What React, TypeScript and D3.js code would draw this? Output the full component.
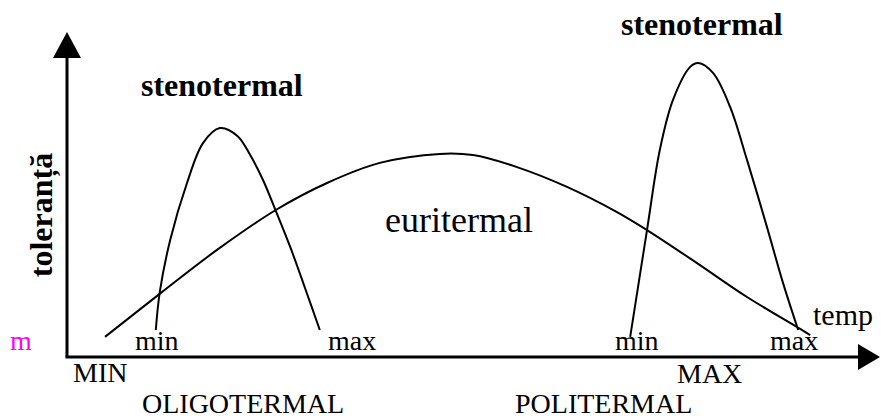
import * as d3 from 'd3'
import { useEffect, useRef } from 'react'

// temperature (0-100) vs tolerance (0-100)
const stenoColdX = [11.1, 11.6, 12.9, 15, 17, 19.1, 21.3, 22.9, 24.5, 26.1, 27.9, 29.75, 31.6]
const stenoColdY = [9, 21.7, 39, 58, 71.3, 76.3, 73.7, 67.3, 59, 48.7, 36.7, 23, 9]

const euriX = [4.75, 11.9, 18.75, 26.1, 32.5, 39.1, 46.6, 50.75, 56.25, 62.5, 68.75, 72.5, 78.75, 85, 91.25, 92.9]
const euriY = [6.7, 21.7, 35.7, 49, 58, 64.7, 67.7, 67.3, 63.3, 56.7, 48.3, 42.3, 31.3, 20, 10, 7.3]

const stenoWarmX = [70.4, 72.5, 74.1, 75.75, 77.9, 78.9, 80.75, 82.9, 85, 87.5, 89.5, 91.4]
const stenoWarmY = [6.7, 42.3, 69, 85.7, 96.7, 98, 94.7, 83.3, 65.7, 43.3, 24.7, 9]

const W = 881
const H = 419

const App = () => {
  const ref = useRef<SVGSVGElement>(null)

  useEffect(() => {
    const svg = d3.select(ref.current)
    svg.selectAll('*').remove()

    const x = d3.scaleLinear().domain([0, 100]).range([67, 867])
    const y = d3.scaleLinear().domain([0, 100]).range([357, 57])

    const font = "'Liberation Serif', 'Times New Roman', serif"

    // axes with arrow heads
    const x0 = x(0)
    const y0 = y(0)
    svg
      .append('line')
      .attr('x1', x0)
      .attr('y1', y0)
      .attr('x2', x0)
      .attr('y2', y(100) + 1)
      .attr('stroke', '#000')
      .attr('stroke-width', 3)
    svg
      .append('path')
      .attr('d', `M${x0},32 L${x0 - 14},${y(100) + 1} L${x0 + 14},${y(100) + 1} Z`)
      .attr('fill', '#000')
    svg
      .append('line')
      .attr('x1', x0 - 1.5)
      .attr('y1', y0)
      .attr('x2', 858)
      .attr('y2', y0)
      .attr('stroke', '#000')
      .attr('stroke-width', 3)
    svg
      .append('path')
      .attr('d', `M880,${y0} L858,${y0 - 13} L858,${y0 + 13} Z`)
      .attr('fill', '#000')

    // curves
    const line = d3
      .line<[number, number]>()
      .x((d) => x(d[0]))
      .y((d) => y(d[1]))
      .curve(d3.curveCatmullRom.alpha(0.5))

    const series: [number[], number[]][] = [
      [stenoColdX, stenoColdY],
      [euriX, euriY],
      [stenoWarmX, stenoWarmY],
    ]
    svg
      .append('g')
      .selectAll('path')
      .data(series)
      .join('path')
      .attr('d', (s) => line(s[0].map((v, i) => [v, s[1][i]] as [number, number])))
      .attr('fill', 'none')
      .attr('stroke', '#000')
      .attr('stroke-width', 2)

    // labels
    const label = (tx: number, ty: number, t: string, size: number, weight = 'normal', fill = '#000') =>
      svg
        .append('text')
        .attr('x', tx)
        .attr('y', ty)
        .attr('font-family', font)
        .attr('font-size', size)
        .attr('font-weight', weight)
        .attr('fill', fill)
        .text(t)

    label(141, 96, 'stenotermal', 32, 'bold')
    label(621, 35, 'stenotermal', 32, 'bold')
    label(385, 232, 'euritermal', 36)
    label(10, 350, 'm', 28, 'normal', '#ff00ff')
    label(135, 350, 'min', 28)
    label(328, 350, 'max', 28)
    label(615, 350, 'min', 28)
    label(770, 350, 'max', 28)
    label(813, 325, 'temp', 30)
    label(73, 382, 'MIN', 28)
    label(677, 383, 'MAX', 28)
    label(142, 413, 'OLIGOTERMAL', 28)
    label(515, 413, 'POLITERMAL', 28)

    svg
      .append('text')
      .attr('transform', 'translate(52, 215) rotate(-90)')
      .attr('text-anchor', 'middle')
      .attr('font-family', font)
      .attr('font-size', 32)
      .attr('font-weight', 'bold')
      .text('toleranță')
  }, [])

  return (
    <svg
      ref={ref}
      width={W}
      height={H}
      style={{ position: 'absolute', left: 0, top: 0, background: '#fff' }}
    ></svg>
  )
}

export default App
